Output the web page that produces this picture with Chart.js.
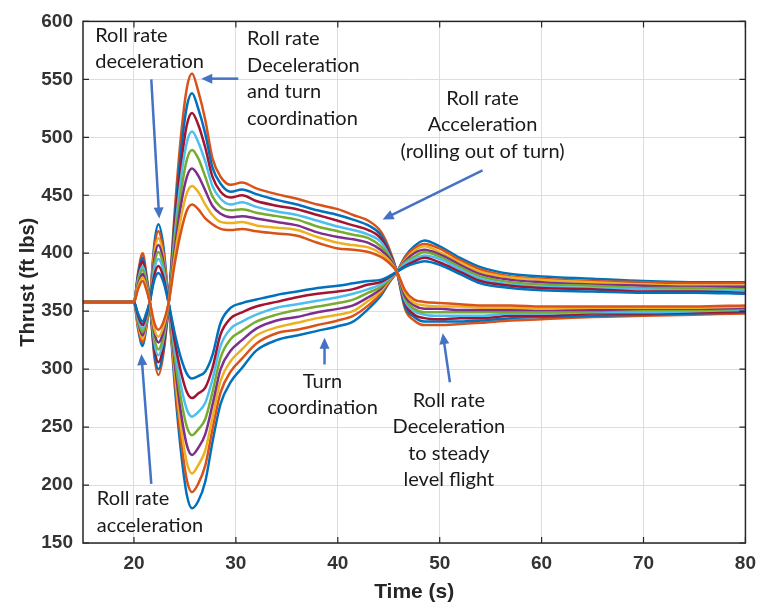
<!DOCTYPE html>
<html>
<head>
<meta charset="utf-8">
<script src="https://cdn.jsdelivr.net/npm/chart.js@4.4.1/dist/chart.umd.min.js"></script>
<style>
  html, body { margin: 0; padding: 0; background: #fff; }
</style>
</head>
<body>
<canvas id="myChart" width="765" height="609"></canvas>
<script>
// time samples (s)
const timeS = [15, 20, 20.4, 20.85, 21.2, 21.55, 22, 22.4, 22.9, 23.4, 24, 24.6, 25.2, 25.7, 26.3, 27, 27.7, 28.5, 29.5, 30.6,
  32, 34, 36, 38, 40, 41.5, 43, 44.2, 45, 45.8, 46.6, 47.5, 48.5, 50, 52, 54, 57, 60, 65, 70, 75, 80];

// runs that peak high at ~26 s (smallest to largest)
const upper1 = [358, 358, 369, 376, 369, 358, 340, 334, 341, 357, 391, 418, 437, 442, 438, 430, 425, 421, 420, 421, 419, 417, 415, 409, 404, 403, 401, 397, 392, 384, 368, 360, 358, 357, 356, 355, 355, 354, 354, 354, 354, 355];
const upper2 = [358, 358, 371, 379, 371, 358, 335, 328, 337, 357, 397, 430, 452, 458, 453, 442, 433, 427, 426, 427, 424, 422, 420, 414, 409, 407, 405, 400, 394, 384, 366, 357, 355, 354, 354, 353, 353, 352, 353, 353, 353, 354];
const upper3 = [358, 358, 372, 382, 372, 358, 332, 323, 333, 357, 403, 441, 466, 473, 467, 454, 441, 434, 431, 432, 430, 427, 424, 418, 414, 412, 409, 403, 396, 384, 363, 355, 352, 352, 351, 351, 351, 351, 351, 352, 352, 353];
const upper4 = [358, 358, 375, 386, 375, 358, 327, 317, 329, 357, 410, 452, 481, 489, 482, 466, 449, 440, 437, 438, 435, 432, 429, 423, 419, 416, 413, 406, 398, 384, 361, 352, 349, 349, 349, 349, 349, 349, 350, 351, 351, 352];
const upper5 = [358, 358, 377, 389, 377, 358, 323, 312, 326, 357, 416, 464, 496, 505, 496, 479, 458, 447, 442, 444, 440, 436, 433, 428, 423, 420, 416, 410, 399, 384, 359, 350, 347, 346, 346, 346, 348, 348, 349, 349, 350, 351];
const upper6 = [358, 358, 379, 393, 379, 358, 319, 306, 321, 357, 423, 475, 511, 521, 511, 491, 466, 453, 448, 450, 445, 441, 438, 433, 428, 424, 420, 413, 401, 384, 357, 347, 344, 343, 344, 344, 346, 346, 348, 348, 349, 350];
const upper7 = [358, 358, 381, 396, 381, 358, 314, 300, 317, 357, 429, 487, 527, 538, 525, 503, 474, 460, 453, 455, 451, 446, 442, 437, 433, 429, 424, 416, 403, 384, 354, 345, 341, 341, 341, 342, 344, 345, 346, 347, 348, 349];
const upper8 = [358, 358, 383, 400, 383, 358, 311, 295, 314, 357, 436, 500, 543, 555, 540, 515, 482, 466, 459, 461, 456, 451, 447, 442, 438, 433, 428, 419, 405, 384, 352, 342, 338, 338, 339, 340, 342, 343, 345, 346, 347, 348];

// runs that dip low at ~26 s (smallest to largest)
const lower1 = [358, 358, 348, 341, 348, 358, 377, 383, 375, 357, 331, 310, 296, 292, 294, 298, 312, 340, 353, 357, 360, 364, 367, 370, 372, 374, 376, 377, 380, 384, 388, 391, 393, 390, 382, 374, 370, 368, 367, 366, 366, 365];
const lower2 = [358, 358, 346, 338, 346, 358, 381, 389, 379, 357, 324, 298, 280, 275, 279, 284, 301, 330, 344, 349, 354, 358, 362, 365, 367, 369, 373, 375, 379, 384, 389, 393, 396, 392, 384, 376, 372, 370, 369, 367, 367, 366];
const lower3 = [358, 358, 344, 335, 344, 358, 386, 395, 384, 357, 318, 286, 265, 259, 263, 271, 291, 320, 335, 341, 347, 353, 356, 359, 362, 365, 369, 373, 378, 384, 391, 395, 398, 395, 386, 378, 373, 371, 370, 369, 368, 368];
const lower4 = [358, 358, 342, 332, 342, 358, 390, 401, 388, 357, 311, 275, 250, 243, 248, 257, 280, 310, 326, 333, 341, 347, 351, 354, 357, 360, 366, 371, 377, 384, 392, 397, 401, 397, 388, 380, 375, 373, 372, 370, 370, 369];
const lower5 = [358, 358, 341, 329, 341, 358, 395, 407, 392, 357, 305, 263, 234, 226, 232, 244, 269, 300, 316, 325, 335, 342, 345, 349, 352, 355, 362, 369, 377, 384, 393, 400, 403, 399, 390, 382, 377, 375, 373, 372, 371, 371];
const lower6 = [358, 358, 339, 326, 339, 358, 399, 413, 396, 357, 298, 251, 219, 210, 217, 230, 258, 290, 307, 317, 329, 336, 340, 344, 347, 350, 359, 367, 376, 384, 394, 402, 406, 401, 392, 384, 379, 377, 375, 373, 372, 372];
const lower7 = [358, 358, 337, 323, 337, 358, 404, 419, 400, 357, 292, 240, 204, 194, 201, 217, 248, 280, 298, 309, 322, 331, 334, 338, 342, 346, 355, 365, 375, 384, 396, 404, 408, 404, 394, 386, 380, 378, 376, 375, 374, 374];
const lower8 = [358, 358, 335, 320, 335, 358, 408, 425, 405, 357, 286, 230, 191, 180, 186, 203, 237, 270, 289, 301, 316, 325, 329, 333, 337, 341, 352, 363, 374, 384, 397, 406, 411, 406, 396, 388, 382, 380, 378, 376, 375, 375];

const xTickValues = [20, 30, 40, 50, 60, 70, 80];
const yTickValues = [150, 200, 250, 300, 350, 400, 450, 500, 550, 600];

const blue = '#0072BD', orange = '#D95319', yellow = '#EDB120', purple = '#7E2F8E',
  green = '#77AC30', lightBlue = '#4DBEEE', darkRed = '#A2142F';
const upperColors = [orange, yellow, purple, green, lightBlue, darkRed, blue, orange];
const lowerColors = [blue, darkRed, lightBlue, green, purple, yellow, orange, blue];

// callouts: x/y of first text line (data units), arrow tail -> tip
const notes = [
  { x: 16.2, y: 588, align: 'left', lines: ['Roll rate', 'deceleration'], arrow: [21.7, 550, 22.48, 430] },
  { x: 31.1, y: 585, align: 'left', lines: ['Roll rate', 'Deceleration', 'and turn', 'coordination'], arrow: [30.24, 550.6, 26.6, 550.6] },
  { x: 54.2, y: 533.6, align: 'center', lines: ['Roll rate', 'Acceleration', '(rolling out of turn)'], arrow: [54.2, 471.5, 44.4, 429] },
  { x: 38.5, y: 289.5, align: 'center', lines: ['Turn', 'coordination'], arrow: [38.7, 304, 38.7, 327] },
  { x: 50.9, y: 273.3, align: 'center', lines: ['Roll rate', 'Deceleration', 'to steady', 'level flight'], arrow: [51.0, 288.7, 50.3, 331] },
  { x: 16.36, y: 188.3, align: 'left', lines: ['Roll rate', 'acceleration'], arrow: [21.7, 201, 20.73, 313] }
];

function makeSet(vals, color) {
  return {
    data: timeS.map(function (t, j) { return { x: t, y: vals[j] }; }),
    borderColor: color,
    borderWidth: 2.5,
    pointRadius: 0,
    cubicInterpolationMode: 'monotone',
    fill: false
  };
}

var datasets = [];
[upper1, upper2, upper3, upper4, upper5, upper6, upper7, upper8].forEach(function (v, i) {
  datasets.push(makeSet(v, upperColors[i]));
});
[lower1, lower2, lower3, lower4, lower5, lower6, lower7, lower8].forEach(function (v, i) {
  datasets.push(makeSet(v, lowerColors[i]));
});

function drawArrow(ctx, x1, y1, x2, y2) {
  var ang = Math.atan2(y2 - y1, x2 - x1);
  var len = 11, half = 5;
  ctx.beginPath();
  ctx.moveTo(x1, y1);
  ctx.lineTo(x2 - Math.cos(ang) * len * 0.8, y2 - Math.sin(ang) * len * 0.8);
  ctx.stroke();
  ctx.beginPath();
  ctx.moveTo(x2, y2);
  ctx.lineTo(x2 - Math.cos(ang) * len - Math.sin(ang) * half, y2 - Math.sin(ang) * len + Math.cos(ang) * half);
  ctx.lineTo(x2 - Math.cos(ang) * len + Math.sin(ang) * half, y2 - Math.sin(ang) * len - Math.cos(ang) * half);
  ctx.closePath();
  ctx.fill();
}

const overlay = {
  id: 'overlay',
  afterDraw: function (chart) {
    var ctx = chart.ctx, a = chart.chartArea, x = chart.scales.x, y = chart.scales.y;
    ctx.save();
    ctx.strokeStyle = '#262626';
    ctx.lineWidth = 1.5;
    ctx.strokeRect(a.left, a.top, a.right - a.left, a.bottom - a.top);
    ctx.lineWidth = 1.2;
    ctx.beginPath();
    xTickValues.forEach(function (v) {
      var px = x.getPixelForValue(v);
      ctx.moveTo(px, a.bottom); ctx.lineTo(px, a.bottom - 6);
      ctx.moveTo(px, a.top); ctx.lineTo(px, a.top + 6);
    });
    yTickValues.forEach(function (v) {
      var py = y.getPixelForValue(v);
      ctx.moveTo(a.left, py); ctx.lineTo(a.left + 6, py);
      ctx.moveTo(a.right, py); ctx.lineTo(a.right - 6, py);
    });
    ctx.stroke();

    // callouts
    ctx.font = '20px Lato';
    ctx.fillStyle = '#1a1a1a';
    ctx.textBaseline = 'middle';
    notes.forEach(function (n) {
      ctx.textAlign = n.align;
      var px = x.getPixelForValue(n.x), py = y.getPixelForValue(n.y);
      n.lines.forEach(function (s, i) {
        ctx.fillText(s, px, py + i * 26.5);
      });
    });
    ctx.strokeStyle = '#4472C4';
    ctx.fillStyle = '#4472C4';
    ctx.lineWidth = 2.5;
    notes.forEach(function (n) {
      var r = n.arrow;
      drawArrow(ctx, x.getPixelForValue(r[0]), y.getPixelForValue(r[1]),
        x.getPixelForValue(r[2]), y.getPixelForValue(r[3]));
    });
    ctx.restore();
  }
};

var ctx = document.getElementById('myChart');
var thrustChart = new Chart(ctx, {
  type: 'line',
  data: { datasets: datasets },
  options: {
    responsive: false,
    animation: false,
    layout: { padding: { left: 0, right: 13, top: 14, bottom: 0 } },
    plugins: { legend: { display: false }, tooltip: { enabled: false } },
    scales: {
      x: {
        type: 'linear',
        min: 15,
        max: 80,
        afterBuildTicks: function (s) { s.ticks = xTickValues.map(function (v) { return { value: v }; }); },
        afterFit: function (s) { s.height = 66; },
        grid: { color: '#dedede', lineWidth: 1, drawTicks: false },
        border: { display: false },
        ticks: { padding: 9, color: '#333', font: { family: 'Liberation Sans', size: 19, weight: 'bold' } },
        title: { display: true, text: 'Time (s)', color: '#262626', padding: { top: 0, bottom: 4 },
          font: { family: 'Liberation Sans', size: 21, weight: 'bold' } }
      },
      y: {
        min: 150,
        max: 600,
        afterBuildTicks: function (s) { s.ticks = yTickValues.map(function (v) { return { value: v }; }); },
        afterFit: function (s) { s.width = 83; },
        grid: { color: '#dedede', lineWidth: 1, drawTicks: false },
        border: { display: false },
        ticks: { padding: 10, color: '#333', font: { family: 'Liberation Sans', size: 19, weight: 'bold' } },
        title: { display: true, text: 'Thrust (ft lbs)', color: '#262626', padding: { top: 16, bottom: 0 },
          font: { family: 'Liberation Sans', size: 20, weight: 'bold' } }
      }
    }
  },
  plugins: [overlay]
});
</script>
</body>
</html>
